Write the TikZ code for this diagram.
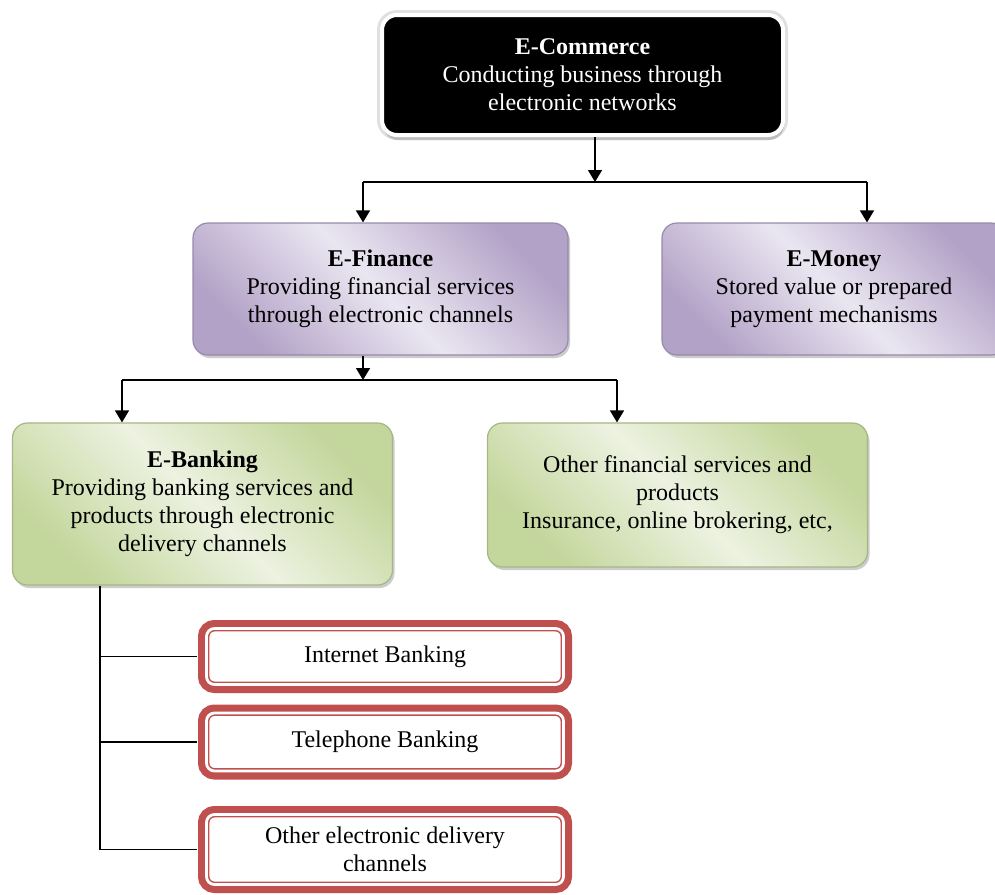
\documentclass[tikz,border=0pt]{standalone}
\usepackage{fontspec}
\setmainfont{Liberation Serif}
\usetikzlibrary{positioning, arrows.meta, shadows}
\definecolor{lilac}{HTML}{B3A2C7}
\definecolor{lilaclight}{HTML}{EAE6F1}
\definecolor{sage}{HTML}{C3D69B}
\definecolor{sagelight}{HTML}{EDF2E1}
\definecolor{brick}{HTML}{C0504D}
\tikzset{box/.style={rounded corners=7.5pt, align=center, inner sep=2pt, font=\fontsize{12}{14}\selectfont},
  top node/.style={box, fill=black, draw=white, line width=2pt, text=white, minimum width=200.5pt, minimum height=60pt,
    preaction={draw=black!12, line width=5pt}, drop shadow={shadow xshift=0.5pt, shadow yshift=-2.5pt, fill=black!35, opacity=0.6}},
  lilac node/.style={box, draw=lilac!85!black, line width=0.6pt, left color=lilac, right color=lilac, middle color=lilaclight, shading angle=-45,
    minimum height=66pt, drop shadow={shadow xshift=1pt, shadow yshift=-1.5pt, fill=black!40, opacity=0.5}},
  sage node/.style={box, draw=sage!85!black, line width=0.6pt, left color=sage, right color=sage, middle color=sagelight, shading angle=-45,
    minimum width=190pt, drop shadow={shadow xshift=1pt, shadow yshift=-1.5pt, fill=black!40, opacity=0.5}},
  channel node/.style={box, rounded corners=4pt, fill=white, draw=brick, line width=0.75pt, double=white, double distance=1.4pt,
    preaction={draw=brick, line width=8.5pt}, minimum width=178.5pt},
  arrow/.style={-{Triangle[width=7pt,length=6pt]}, line width=0.75pt},
  link/.style={line width=0.8pt},}

\begin{document}
\begin{tikzpicture}[x=0.5pt, y=-0.5pt]
        \useasboundingbox (0,0) rectangle (995,894);
        % Commerce
        \node[top node] (ecom) at (582.5,75) {\textbf{E-Commerce}\\Conducting business through\\electronic networks};
        % Finance and money
        \node[lilac node, minimum width=187.5pt] (efin) at (380.5,289) {\textbf{E-Finance}\\Providing financial services\\through electronic channels};
        \node[lilac node, minimum width=172pt] (emoney) at (834,289) {\textbf{E-Money}\\Stored value or prepared\\payment mechanisms};
        % Banking and other services
        \node[sage node, minimum height=81pt] (ebank) at (202.5,504) {\textbf{E-Banking}\\Providing banking services and\\products through electronic\\delivery channels};
        \node[sage node, minimum height=72pt] (other) at (677.5,495) {Other financial services and\\products\\Insurance, online brokering, etc,};
        % Delivery channels
        \node[channel node, minimum height=28pt] (ib) at (385,656.5) {Internet Banking};
        \node[channel node, minimum height=29pt] [below = 13.5pt of ib] (tb) {Telephone Banking};
        \node[channel node, minimum height=35pt] [below = 21pt of tb] (ob) {Other electronic delivery\\channels};
        % Junctions
        \coordinate (split1) at (595,182);
        \coordinate (fin in) at (363,182);
        \coordinate (money in) at (867,182);
        \coordinate (split2) at (363,380);
        \coordinate (bank in) at (122,380);
        \coordinate (other in) at (617,380);
        \coordinate (trunk) at (100,0);
        % Paths
        \draw[arrow] (ecom.south -| split1) -- (split1);
        \draw[link] (fin in) -- (money in);
        \draw[arrow] (fin in) -- (fin in |- efin.north);
        \draw[arrow] (money in) -- (money in |- emoney.north);
        \draw[arrow] (efin.south -| split2) -- (split2);
        \draw[link] (bank in) -- (other in);
        \draw[arrow] (bank in) -- (bank in |- ebank.north);
        \draw[arrow] (other in) -- (other in |- other.north);
        \draw[link, shorten >=4.25pt] (ebank.south -| trunk) |- (ob.west);
        \draw[link, shorten >=4.25pt] (trunk |- ib.west) -- (ib.west);
        \draw[link, shorten >=4.25pt] (trunk |- tb.west) -- (tb.west);
    \end{tikzpicture}
\end{document}
